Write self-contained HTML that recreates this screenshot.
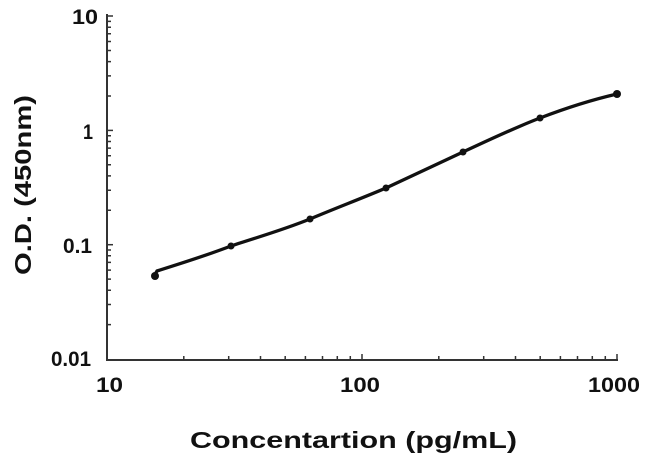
<!DOCTYPE html>
<html><head><meta charset="utf-8"><style>html,body{margin:0;padding:0;background:#fff;}svg{display:block}</style></head>
<body>
<svg width="650" height="464" xmlns="http://www.w3.org/2000/svg" font-family="Liberation Sans, Arial, sans-serif" font-weight="bold">
<g stroke="#333" stroke-width="2" fill="none">
<line x1="107" y1="14" x2="107" y2="360"/>
<line x1="106" y1="360" x2="618" y2="360"/>
</g>
<g stroke="#333" stroke-width="1.5">
<line x1="107" y1="16" x2="113" y2="16"/><line x1="107" y1="130.4" x2="113" y2="130.4"/><line x1="107" y1="244.7" x2="113" y2="244.7"/>
<path d="M107 324.6h4M107 304.5h4M107 290.2h4M107 279.1h4M107 270.1h4M107 262.4h4M107 255.8h4M107 250h4
M107 210.3h4M107 190.2h4M107 175.9h4M107 164.8h4M107 155.8h4M107 148.1h4M107 141.5h4M107 135.7h4
M107 96h4M107 75.9h4M107 61.6h4M107 50.5h4M107 41.5h4M107 33.8h4M107 27.2h4M107 21.4h4"/>
<line x1="362" y1="360" x2="362" y2="354"/><line x1="617" y1="360" x2="617" y2="354"/>
<path d="M183.8 360v-4M228.7 360v-4M260.5 360v-4M285.2 360v-4M305.4 360v-4M322.5 360v-4M337.3 360v-4M350.3 360v-4
M438.8 360v-4M483.7 360v-4M515.5 360v-4M540.2 360v-4M560.4 360v-4M577.5 360v-4M592.3 360v-4M605.3 360v-4"/>
</g>
<g font-size="21" fill="#111">
<text x="72" y="24" textLength="26" lengthAdjust="spacingAndGlyphs">10</text>
<text x="83" y="139" textLength="10" lengthAdjust="spacingAndGlyphs">1</text>
<text x="63" y="253" textLength="29" lengthAdjust="spacingAndGlyphs">0.1</text>
<text x="51" y="366" textLength="40" lengthAdjust="spacingAndGlyphs">0.01</text>
<text x="96" y="392" textLength="27" lengthAdjust="spacingAndGlyphs">10</text>
<text x="340" y="392" textLength="40" lengthAdjust="spacingAndGlyphs">100</text>
<text x="588" y="392" textLength="52" lengthAdjust="spacingAndGlyphs">1000</text>
</g>
<text x="190" y="448" font-size="23" fill="#111" textLength="327" lengthAdjust="spacingAndGlyphs">Concentartion (pg/mL)</text>
<text transform="translate(31,275) rotate(-90)" font-size="23" fill="#111" textLength="180" lengthAdjust="spacingAndGlyphs">O.D. (450nm)</text>
<path d="M154 276 L157 271 C185 262 205 256 231 246 C258 237 283 230 310 219 C336 208 360 199 386 188 C412 176 437 164 463 152 C489 140 514 128 540 118 C566 108 591 100 617 94" fill="none" stroke="#111" stroke-width="3.3"/>
<g fill="#111">
<circle cx="155" cy="276" r="4"/><circle cx="231" cy="246" r="3.5"/><circle cx="310" cy="219" r="3.5"/><circle cx="386" cy="188" r="3.5"/><circle cx="463" cy="152" r="3.5"/><circle cx="540" cy="118" r="3.5"/><circle cx="617" cy="94" r="4"/>
</g>
</svg>
</body></html>
